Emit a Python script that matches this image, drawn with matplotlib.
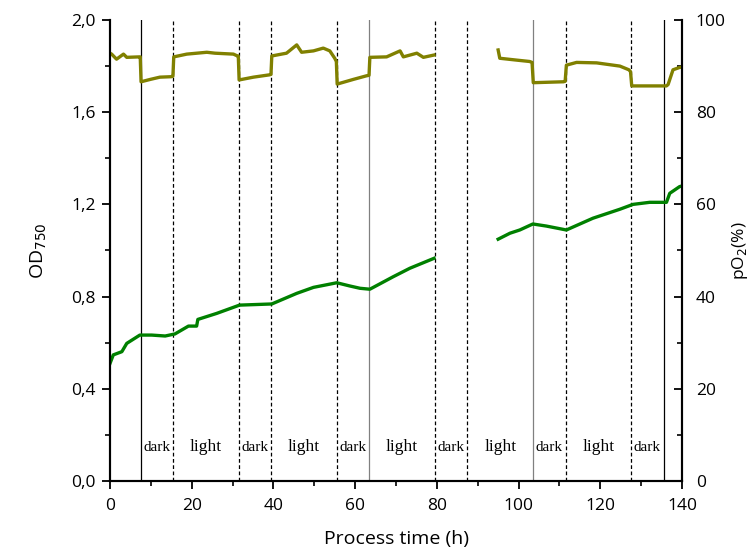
import matplotlib.pyplot as plt
from matplotlib.ticker import MultipleLocator, FuncFormatter

# OD750 readings (two segments, gap in between)
od_t1 = [0, 0.8, 2.9, 4.1, 7.3, 10.2, 13.5, 15.9, 19.2, 21.2, 21.5, 26.1, 31.7, 39.6,
         45.7, 49.8, 55.5, 58.7, 61.2, 63.6, 69.3, 73.4, 79.3]
od_v1 = [0.51, 0.547, 0.561, 0.597, 0.633, 0.633, 0.629, 0.638, 0.672, 0.672, 0.701, 0.727, 0.763, 0.768,
         0.814, 0.840, 0.860, 0.846, 0.836, 0.832, 0.886, 0.923, 0.966]
od_t2 = [95.0, 97.9, 100.3, 103.5, 106.8, 111.7, 118.2, 124.8, 128.0, 132.1, 136.2, 137.0, 139.4, 140]
od_v2 = [1.049, 1.075, 1.089, 1.115, 1.106, 1.089, 1.140, 1.179, 1.200, 1.209, 1.209, 1.248, 1.277, 1.28]

# pO2 readings
po2_t1 = [0, 0.4, 1.6, 3.3, 4.1, 7.2, 7.4, 7.6, 9.8, 12.2, 15.0, 15.4, 15.6, 18.8, 23.7, 25.7, 30.2, 31.2,
          31.4, 31.6, 35.1, 39.0, 39.4, 39.6, 43.2, 45.7, 46.9, 49.8, 52.2, 53.8, 55.0, 55.4, 55.6,
          59.5, 62.8, 63.4, 63.6, 67.7, 71.0, 71.8, 75.1, 76.7, 79.3]
po2_v1 = [92.8, 92.6, 91.5, 92.6, 91.9, 92.0, 92.0, 86.6, 87.1, 87.6, 87.7, 87.8, 92.0, 92.6, 93.0, 92.8, 92.6, 92.2,
          92.2, 87.0, 87.6, 88.1, 88.2, 92.2, 92.8, 94.6, 93.0, 93.3, 93.9, 93.3, 91.7, 91.0, 86.1,
          87.1, 87.9, 88.0, 91.9, 92.0, 93.3, 92.0, 92.8, 91.9, 92.4]
po2_t2 = [95.0, 95.4, 99.5, 102.7, 103.3, 103.6, 111.0, 111.4, 111.7, 114.2, 119.1, 124.8, 127.0, 127.4, 127.7,
          136.2, 136.6, 137.8, 139.4, 140]
po2_v2 = [93.5, 91.7, 91.3, 91.0, 90.8, 86.4, 86.6, 86.7, 90.2, 90.8, 90.7, 90.0, 89.2, 88.8, 85.7,
          85.7, 86.0, 89.2, 89.7, 89.8]

# light/dark phase boundaries
bounds = [7.5, 15.5, 31.5, 39.5, 55.5, 63.5, 79.5, 87.5, 103.5, 111.5, 127.5, 135.5]
bound_styles = ['-', '--', '--', '--', '--', '-', '--', '--', '-', '--', '--', '-']
bound_colors = ['black', 'black', 'black', 'black', 'black', 'gray', 'black', 'black', 'gray', 'black', 'black', 'black']
phase_labels = ['dark', 'light', 'dark', 'light', 'dark', 'light', 'dark', 'light', 'dark', 'light', 'dark']

plt.rcParams['font.family'] = ['Open Sans', 'DejaVu Sans']

fig = plt.figure(figsize=(7.54, 5.54), dpi=100)
ax = fig.add_axes([0.1459, 0.1318, 0.7586, 0.8321])
ax2 = ax.twinx()

for b, ls, c in zip(bounds, bound_styles, bound_colors):
    ax.plot([b, b], [0, 2.0], linestyle=ls, color=c, linewidth=0.9, dashes=(3, 2) if ls == '--' else (None, None))

for i, lab in enumerate(phase_labels):
    xc = (bounds[i] + bounds[i + 1]) / 2
    ax.text(xc, 0.147, lab, ha='center', va='center', family=['Liberation Serif'],
            fontsize=12.5 if lab == 'light' else 11)

ax.plot(od_t1, od_v1, color='#008000', linewidth=2.4)
ax.plot(od_t2, od_v2, color='#008000', linewidth=2.4)
ax2.plot(po2_t1, po2_v1, color='#808000', linewidth=2.4)
ax2.plot(po2_t2, po2_v2, color='#808000', linewidth=2.4)

ax.set_xlim(0, 140)
ax.set_ylim(0, 2.0)
ax2.set_ylim(0, 100)

ax.xaxis.set_major_locator(MultipleLocator(20))
ax.xaxis.set_minor_locator(MultipleLocator(10))
ax.yaxis.set_major_locator(MultipleLocator(0.4))
ax.yaxis.set_minor_locator(MultipleLocator(0.2))
ax.yaxis.set_major_formatter(FuncFormatter(lambda v, p: f'{v:.1f}'.replace('.', ',')))
ax2.yaxis.set_major_locator(MultipleLocator(20))
ax2.yaxis.set_minor_locator(MultipleLocator(10))

for a in (ax, ax2):
    a.spines['top'].set_visible(False)
    for s in a.spines.values():
        s.set_linewidth(1.5)
ax.tick_params(axis='x', which='major', direction='out', length=5.5, width=1.3, labelsize=12.5, pad=6.5)
ax.tick_params(axis='y', which='major', direction='out', length=5.5, width=1.3, labelsize=12.5, pad=4.5)
ax.tick_params(which='minor', direction='out', length=3.5, width=1.2)
ax2.tick_params(which='major', direction='in', length=6, width=1.3, labelsize=12.5, pad=10)
ax2.tick_params(which='minor', direction='in', length=3.5, width=1.2)

ax.set_xlabel('Process time (h)', fontsize=14, labelpad=12)
ax.set_ylabel('OD$_{750}$', fontsize=14, labelpad=16)
ax2.set_ylabel('pO$_2$(%)', fontsize=12.5, labelpad=3)

fig.savefig('out.png', dpi=100)
